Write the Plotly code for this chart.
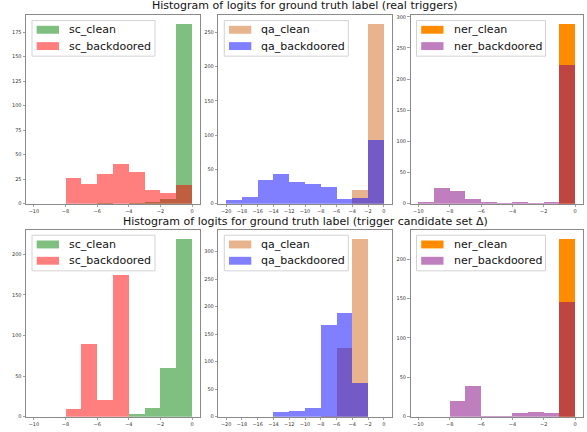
import plotly.graph_objects as go

# ---------------- data ----------------
sc_edges = [-10, -9, -8, -7, -6, -5, -4, -3, -2, -1, 0]
qa_edges = [-20, -18, -16, -14, -12, -10, -8, -6, -4, -2, 0]
ner_edges = [-10, -9, -8, -7, -6, -5, -4, -3, -2, -1, 0]

# real triggers
sc_real_clean = [0, 0, 0, 0, 1, 0, 1, 2, 5, 183]
sc_real_bd = [0, 0, 26, 20, 30, 40, 32, 14, 11, 19]
qa_real_clean = [0, 0, 0, 0, 0, 0, 0, 0, 20, 262]
qa_real_bd = [6, 10, 35, 44, 31, 28, 24, 7, 8, 93]
ner_real_clean = [0, 0, 0, 0, 0, 0, 0, 0, 0, 288]
ner_real_bd = [3, 25, 20, 7, 2, 1, 2, 1, 2, 222]

# trigger candidate set
sc_cand_clean = [0, 0, 0, 0, 0, 0, 3, 11, 60, 219]
sc_cand_bd = [0, 0, 9, 89, 20, 174, 0, 0, 0, 0]
qa_cand_clean = [0, 0, 0, 0, 0, 0, 2, 125, 323, 0]
qa_cand_bd = [0, 0, 0, 8, 11, 15, 166, 189, 62, 0]
ner_cand_clean = [0, 0, 0, 0, 0, 0, 0, 0, 0, 226]
ner_cand_bd = [0, 0, 20, 39, 1, 1, 5, 6, 5, 146]

titles = ["Histogram of logits for ground truth label (real triggers)",
          "Histogram of logits for ground truth label (trigger candidate set Δ)"]

y_ticks = [
    [0, 25, 50, 75, 100, 125, 150, 175],
    [0, 50, 100, 150, 200, 250],
    [0, 50, 100, 150, 200, 250, 300],
    [0, 50, 100, 150, 200],
    [0, 50, 100, 150, 200, 250, 300],
    [0, 50, 100, 150, 200],
]
sc_xticks = [-10, -8, -6, -4, -2, 0]
qa_xticks = [-20, -18, -16, -14, -12, -10, -8, -6, -4, -2, 0]

# ---------------- styling ----------------
W, H = 587, 432
FONT = "DejaVu Sans"
colors = {
    "sc_clean": "rgba(0,128,0,0.5)",
    "sc_backdoored": "rgba(255,0,0,0.5)",
    "qa_clean": "rgba(210,105,30,0.5)",
    "qa_backdoored": "rgba(0,0,255,0.5)",
    "ner_clean": "rgba(255,140,0,1)",
    "ner_backdoored": "rgba(128,0,128,0.5)",
}
legend_box_w = {"sc": 123, "qa": 124, "ner": 129}

# axes pixel boxes (left, right) and (top, bottom)
cols_px = [(26, 200), (218.3, 391.7), (410.5, 583)]
rows_px = [(13.5, 204), (230.7, 419.5)]
title_cx = 305

panels = [
    # (row, col, edges, clean, bd, prefix, xticks)
    (0, 0, sc_edges, sc_real_clean, sc_real_bd, "sc", sc_xticks),
    (0, 1, qa_edges, qa_real_clean, qa_real_bd, "qa", qa_xticks),
    (0, 2, ner_edges, ner_real_clean, ner_real_bd, "ner", sc_xticks),
    (1, 0, sc_edges, sc_cand_clean, sc_cand_bd, "sc", sc_xticks),
    (1, 1, qa_edges, qa_cand_clean, qa_cand_bd, "qa", qa_xticks),
    (1, 2, ner_edges, ner_cand_clean, ner_cand_bd, "ner", sc_xticks),
]


def px_x(v):
    return v / W


def px_y(v):
    return 1 - v / H


fig = go.Figure()
layout = {}
shapes = []
annotations = []
for i, (r, c, edges, clean, bd, prefix, xticks) in enumerate(panels):
    n = i + 1
    xa = "x" if n == 1 else f"x{n}"
    ya = "y" if n == 1 else f"y{n}"
    centers = [(a + b) / 2 for a, b in zip(edges[:-1], edges[1:])]
    widths = [b - a for a, b in zip(edges[:-1], edges[1:])]
    names = [f"{prefix}_clean", f"{prefix}_backdoored"]
    for name, vals in zip(names, (clean, bd)):
        fig.add_trace(go.Bar(
            x=centers, y=vals, width=widths, name=name,
            marker=dict(color=colors[name], line=dict(width=0)),
            xaxis=xa, yaxis=ya, showlegend=False,
        ))
    l, rr = cols_px[c]
    t, b = rows_px[r]
    span = edges[-1] - edges[0]
    ymax = max(max(clean), max(bd)) * 1.05
    axis_common = dict(
        showline=True, mirror=True, linecolor="#8a8a8a", linewidth=1,
        ticks="outside", ticklen=2.5, tickwidth=0.8, tickcolor="#8a8a8a",
        tickfont=dict(family=FONT, size=5, color="#333"),
        showgrid=False, zeroline=False,
    )
    layout["xaxis" if n == 1 else f"xaxis{n}"] = dict(
        domain=[px_x(l), px_x(rr)], anchor=ya,
        range=[edges[0] - 0.05 * span, edges[-1] + 0.05 * span],
        tickvals=xticks, **axis_common)
    layout["yaxis" if n == 1 else f"yaxis{n}"] = dict(
        domain=[px_y(b), px_y(t)], anchor=xa,
        range=[0, ymax], tickvals=y_ticks[i], **axis_common)

    # custom legend (matplotlib-like)
    bx0 = l + 6
    by0 = t + 5.3
    bx1 = bx0 + legend_box_w[prefix]
    by1 = by0 + 36
    shapes.append(dict(type="rect", xref="paper", yref="paper",
                       x0=px_x(bx0), x1=px_x(bx1), y0=px_y(by1), y1=px_y(by0),
                       fillcolor="rgba(255,255,255,0.8)",
                       line=dict(color="#d3d3d3", width=1), layer="above"))
    for k, name in enumerate(names):
        cy = by0 + 9.3 + k * 16.5
        shapes.append(dict(type="rect", xref="paper", yref="paper",
                           x0=px_x(bx0 + 4.7), x1=px_x(bx0 + 27),
                           y0=px_y(cy + 4), y1=px_y(cy - 4),
                           fillcolor=colors[name], line=dict(width=0),
                           layer="above"))
        annotations.append(dict(text=name, x=px_x(bx0 + 35), y=px_y(cy),
                                xref="paper", yref="paper",
                                xanchor="left", yanchor="middle",
                                showarrow=False,
                                font=dict(family=FONT, size=11, color="#111")))

annotations += [
    dict(text=titles[0], x=px_x(title_cx), y=px_y(3.8), xref="paper", yref="paper",
         xanchor="center", yanchor="middle", showarrow=False,
         font=dict(family=FONT, size=11, color="#111")),
    dict(text=titles[1], x=px_x(title_cx), y=px_y(222.3), xref="paper", yref="paper",
         xanchor="center", yanchor="middle", showarrow=False,
         font=dict(family=FONT, size=11, color="#111")),
]

fig.update_layout(
    width=W, height=H, margin=dict(l=0, r=0, t=0, b=0),
    paper_bgcolor="white", plot_bgcolor="white",
    barmode="overlay", bargap=0,
    font=dict(family=FONT),
    annotations=annotations, shapes=shapes,
    hovermode=False,
    **layout,
)

fig.write_html(
    "out.html",
    config={"displayModeBar": False, "staticPlot": True},
    post_script="document.body.style.margin='0';document.body.style.overflow='hidden';",
)
